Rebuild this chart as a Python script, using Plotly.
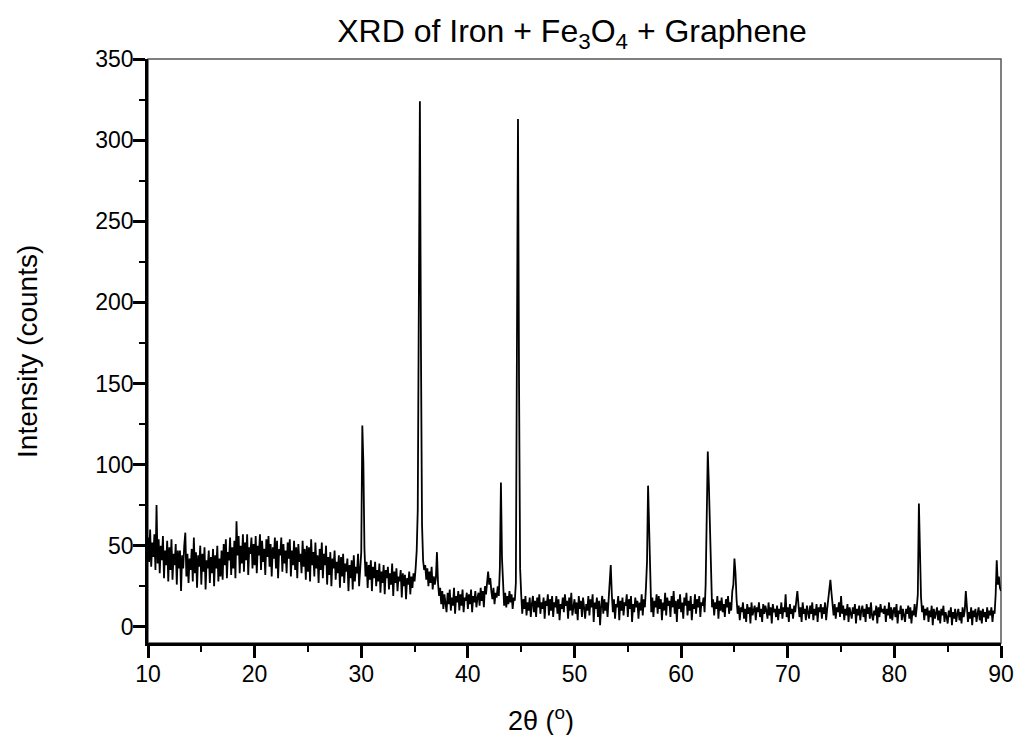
"""XRD pattern of Iron + Fe3O4 + Graphene."""
import numpy as np
import plotly.graph_objects as go

FONT = 'Liberation Sans, Arial, sans-serif'

# scan grid: 10.0 .. 90.0 deg in 0.1 deg steps
two_theta_start = 10.0
two_theta_step = 0.1

# intensity (counts), one row per degree
counts_10_20 = [
    55, 40, 60, 37, 52, 43, 57, 35, 75, 39,   # 10
    54, 33, 50, 41, 56, 30, 47, 38, 53, 28,   # 11
    49, 35, 54, 29, 45, 38, 51, 26, 47, 36,   # 12
    47, 22, 44, 36, 50, 58, 31, 45, 27, 42,   # 13
    35, 48, 28, 55, 33, 46, 24, 44, 37, 50,   # 14
    26, 45, 34, 49, 23, 41, 36, 47, 27, 43,   # 15
    33, 48, 25, 44, 36, 50, 28, 42, 31, 47,   # 16
    29, 51, 38, 54, 30, 46, 41, 55, 32, 49,   # 17
    36, 53, 30, 65, 44, 56, 33, 50, 39, 57,   # 18
    34, 52, 41, 57, 32, 49, 45, 55, 36, 51,   # 19
]
counts_20_30 = [
    38, 56, 33, 50, 44, 57, 35, 53, 40, 48,   # 20
    32, 54, 43, 56, 37, 51, 31, 49, 42, 55,   # 21
    36, 53, 30, 48, 44, 55, 34, 51, 39, 47,   # 22
    33, 52, 42, 54, 31, 47, 38, 53, 35, 49,   # 23
    30, 51, 40, 45, 33, 53, 37, 48, 29, 50,   # 24
    34, 49, 28, 54, 38, 46, 31, 52, 36, 44,   # 25
    27, 48, 35, 52, 30, 45, 38, 50, 26, 43,   # 26
    32, 46, 25, 42, 36, 47, 29, 40, 33, 44,   # 27
    24, 43, 31, 45, 27, 39, 34, 42, 22, 38,   # 28
    30, 41, 23, 44, 28, 37, 33, 45, 25, 40,   # 29
]
counts_30_40 = [
    46, 124, 101, 48, 31, 40, 24, 38, 29, 41,   # 30
    22, 37, 30, 40, 25, 35, 28, 39, 21, 34,     # 31
    27, 38, 20, 35, 30, 37, 23, 33, 26, 39,     # 32
    19, 34, 27, 36, 22, 31, 28, 35, 18, 33,     # 33
    25, 32, 17, 30, 26, 34, 20, 31, 24, 33,     # 34
    28, 36, 47, 72, 261, 324, 171, 63, 41, 35,  # 35
    38, 29, 36, 25, 34, 27, 37, 23, 31, 26,     # 36
    30, 46, 27, 19, 24, 14, 22, 11, 20, 15,     # 37
    9, 21, 14, 23, 10, 18, 13, 24, 8, 19,       # 38
    15, 22, 10, 20, 13, 23, 9, 18, 16, 21,      # 39
]
counts_40_50 = [
    11, 20, 14, 23, 9, 19, 15, 22, 12, 18,      # 40
    21, 13, 24, 16, 22, 12, 25, 20, 28, 34,     # 41
    26, 30, 22, 17, 24, 14, 21, 18, 25, 19,     # 42
    36, 89, 42, 20, 13, 21, 12, 19, 14, 22,     # 43
    15, 20, 11, 18, 16, 27, 206, 313, 149, 36,  # 44
    20, 8, 17, 11, 19, 7, 15, 10, 18, 6,        # 45
    14, 19, 9, 16, 6, 18, 12, 20, 8, 15,        # 46
    11, 18, 5, 16, 13, 20, 7, 17, 10, 19,       # 47
    6, 15, 12, 19, 8, 17, 4, 14, 11, 18,        # 48
    9, 20, 13, 16, 5, 18, 10, 21, 7, 14,        # 49
]
counts_50_60 = [
    17, 8, 15, 4, 19, 11, 16, 6, 18, 12,        # 50
    5, 14, 10, 19, 7, 17, 12, 20, 3, 15,        # 51
    11, 18, 6, 16, 1, 13, 19, 8, 17, 10,        # 52
    15, 6, 18, 22, 38, 20, 9, 17, 5, 14,        # 53
    12, 19, 4, 16, 10, 18, 7, 15, 13, 20,       # 54
    6, 17, 11, 19, 3, 14, 9, 18, 12, 16,        # 55
    5, 15, 10, 20, 7, 17, 12, 24, 40, 87,       # 56
    55, 22, 9, 18, 6, 16, 12, 20, 8, 19,        # 57
    11, 17, 4, 15, 10, 21, 7, 18, 13, 16,       # 58
    6, 19, 12, 22, 8, 16, 3, 17, 11, 20,        # 59
]
counts_60_70 = [
    9, 15, 5, 18, 13, 21, 7, 16, 10, 19,        # 60
    4, 14, 11, 20, 8, 17, 12, 19, 6, 15,        # 61
    13, 18, 9, 26, 61, 108, 88, 60, 24, 12,     # 62
    17, 7, 15, 11, 19, 5, 16, 10, 18, 9,        # 63
    14, 6, 17, 12, 19, 8, 15, 10, 22, 26,       # 64
    42, 33, 17, 8, 13, 4, 12, 9, 15, 5,         # 65
    11, 3, 14, 8, 12, 2, 15, 7, 10, 13,         # 66
    4, 12, 9, 15, 6, 11, 3, 14, 8, 13,          # 67
    10, 5, 15, 7, 12, 2, 14, 9, 11, 6,          # 68
    13, 4, 11, 8, 15, 5, 12, 9, 20, 6,          # 69
]
counts_70_80 = [
    12, 3, 14, 8, 11, 5, 13, 9, 16, 22,         # 70
    14, 6, 12, 3, 15, 8, 11, 4, 13, 9,          # 71
    5, 13, 8, 15, 4, 11, 7, 14, 3, 12,          # 72
    9, 14, 5, 12, 8, 15, 4, 11, 18, 24,         # 73
    29, 21, 13, 7, 14, 5, 12, 9, 15, 6,         # 74
    19, 8, 13, 4, 11, 7, 14, 3, 12, 9,          # 75
    5, 12, 8, 14, 2, 11, 7, 13, 4, 10,          # 76
    13, 6, 11, 3, 14, 8, 12, 5, 15, 7,          # 77
    4, 10, 7, 13, 2, 12, 6, 14, 9, 11,          # 78
    8, 13, 3, 11, 7, 15, 5, 12, 4, 10,          # 79
]
counts_80_90 = [
    12, 6, 14, 2, 10, 8, 13, 4, 11, 7,          # 80
    3, 11, 8, 13, 5, 12, 2, 10, 7, 14,          # 81
    6, 12, 20, 76, 42, 18, 9, 13, 4, 11,        # 82
    7, 12, 3, 10, 6, 13, 1, 11, 5, 9,           # 83
    12, 4, 10, 2, 11, 7, 13, 3, 9, 6,           # 84
    2, 10, 6, 12, 1, 9, 5, 11, 3, 8,            # 85
    11, 4, 9, 2, 12, 6, 10, 22, 8, 3,           # 86
    9, 5, 12, 1, 10, 6, 11, 3, 8, 12,           # 87
    4, 10, 2, 11, 6, 9, 3, 12, 5, 10,           # 88
    7, 12, 3, 10, 8, 20, 41, 26, 31, 24,        # 89
    22,                                         # 90
]

counts = (counts_10_20 + counts_20_30 + counts_30_40 + counts_40_50
          + counts_50_60 + counts_60_70 + counts_70_80 + counts_80_90)
two_theta = np.round(two_theta_start + two_theta_step * np.arange(len(counts)), 2)

x_ticks = [10, 20, 30, 40, 50, 60, 70, 80, 90]
y_ticks = [0, 50, 100, 150, 200, 250, 300, 350]

fig = go.Figure()

fig.add_trace(
    go.Scatter(
        x=two_theta,
        y=counts,
        mode='lines',
        line={'color': 'black', 'width': 1.8},
        hoverinfo='x+y',
    ))

axis_common = dict(
    ticks='outside',
    ticklen=12,
    tickwidth=2.5,
    tickcolor='black',
    showline=True,
    linewidth=2.5,
    linecolor='black',
    showgrid=False,
    zeroline=False,
    automargin=False,
)

fig.update_xaxes(
    range=[10, 90],
    tickvals=x_ticks,
    tickfont={'size': 23},
    ticklabelstandoff=-3,
    minor={'dtick': 5, 'tick0': 10, 'ticks': 'outside', 'ticklen': 6,
           'tickwidth': 2, 'tickcolor': 'black', 'showgrid': False},
    **axis_common,
)

fig.update_yaxes(
    range=[-10, 350],
    tickvals=y_ticks,
    tickfont={'size': 23},
    ticklabelstandoff=-5,
    minor={'dtick': 25, 'tick0': 0, 'ticks': 'outside', 'ticklen': 6,
           'tickwidth': 2, 'tickcolor': 'black', 'showgrid': False},
    **axis_common,
)

# thin frame on top and right
fig.add_shape(type='rect', xref='paper', yref='paper', x0=0, x1=1, y0=0, y1=1,
              line={'color': '#555555', 'width': 1.5}, layer='below')

fig.add_annotation(text='Intensity (counts)', xref='paper', yref='paper',
                   x=-0.1419, y=0.5, textangle=-90, showarrow=False,
                   xanchor='center', yanchor='middle', font={'size': 28})
fig.add_annotation(text='2θ (<sup>o</sup>)', xref='paper', yref='paper',
                   x=0.4607, y=-0.13, showarrow=False,
                   xanchor='center', yanchor='middle', font={'size': 27})

fig.update_layout(
    width=1017,
    height=735,
    margin={'l': 148, 'r': 16, 't': 59, 'b': 92},
    plot_bgcolor='white',
    paper_bgcolor='white',
    showlegend=False,
    font={'family': FONT, 'color': 'black'},
    title={
        'text': 'XRD of Iron + Fe<sub>3</sub>O<sub>4</sub> + Graphene',
        'x': 572 / 1017,
        'xanchor': 'center',
        'y': 1 - 31 / 735,
        'yanchor': 'middle',
        'font': {'size': 32},
    },
)

# drop the default body margin so the figure sits at the window's corner
fig.write_html('out.html', config={'displayModeBar': False},
               post_script="document.body.style.margin='0';"
                           "document.body.style.overflow='hidden';")
